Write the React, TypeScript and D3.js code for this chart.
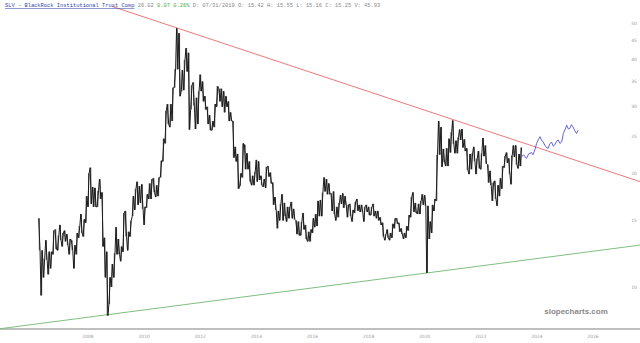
import React, { useRef, useEffect } from 'react';
import * as d3 from 'd3';

const W = 640;
const H = 343;

// monthly low / high of the daily bars, May 2006 .. Jul 2023
const firstMonth = new Date(2006, 4, 1);
const monthlyLows = [
  12.5, 9.5, 10.6, 11.8, 10.8, 11.2, 12.2, 12.6,
  12.5, 13.3, 12.8, 13.2, 12.9, 12.2, 12.5, 11.2, 12.2, 13.5, 13.9, 13.6,
  14.8, 16.3, 16.6, 16.3, 16.3, 16.3, 17.1, 12.8, 10.6, 8.4, 9.0, 10.0,
  10.6, 12.2, 12.2, 11.7, 12.4, 13.6, 12.5, 13.6, 15.4, 16.0, 16.5, 16.7,
  16.1, 14.6, 16.2, 17.1, 17.1, 17.8, 17.3, 17.4, 19.5, 21.5, 24.0, 27.0,
  26.5, 27.5, 33.7, 37.7, 32.0, 33.0, 33.2, 37.2, 26.1, 29.5, 30.2, 26.2,
  27.0, 33.0, 31.0, 29.5, 27.0, 26.0, 26.0, 26.5, 30.0, 31.0, 30.0, 29.0,
  30.0, 27.5, 27.5, 22.0, 21.5, 18.2, 18.5, 19.5, 20.5, 20.5, 19.0, 18.6,
  18.6, 19.0, 19.2, 18.6, 18.4, 18.3, 19.6, 18.8, 16.5, 16.0, 14.3, 15.0,
  15.0, 15.4, 14.9, 15.2, 15.2, 15.1, 13.8, 13.7, 13.7, 14.2, 13.4, 13.2,
  13.2, 13.9, 14.4, 14.5, 15.4, 15.4, 17.9, 17.6, 17.6, 15.9, 15.6, 15.0,
  15.3, 16.6, 16.2, 16.5, 15.3, 15.4, 14.9, 15.7, 15.9, 15.8, 15.8, 14.9,
  15.8, 15.5, 15.5, 15.4, 15.2, 15.0, 14.6, 13.6, 13.3, 13.5, 13.3, 13.5,
  14.3, 14.7, 14.0, 13.8, 13.4, 13.5, 14.1, 15.3, 15.8, 15.7, 15.6, 15.6,
  16.5, 16.4, 10.9, 13.4, 13.9, 15.9, 16.9, 22.4, 20.8, 21.4, 20.9, 20.9,
  22.7, 23.9, 22.6, 22.6, 24.5, 23.4, 22.9, 20.4, 19.9, 20.5, 21.5, 19.9,
  20.6, 20.5, 22.2, 21.2, 18.9, 18.6, 16.9, 17.1, 16.4, 17.4, 18.2, 20.7,
  21.3, 19.9, 18.7, 22.1, 21.1, 20.6, 20.9,
];
const monthlyHighs = [
  15.2, 12.5, 11.9, 13.3, 12.4, 12.4, 14.1, 14.2,
  13.7, 14.6, 13.9, 14.1, 13.8, 13.4, 13.3, 12.9, 13.9, 14.5, 15.6, 15.1,
  17.4, 20.0, 20.7, 18.4, 18.3, 18.0, 19.3, 17.8, 13.5, 12.4, 10.6, 11.5,
  12.3, 14.4, 13.4, 12.8, 15.7, 15.9, 14.0, 15.0, 17.4, 18.2, 19.0, 18.5,
  18.7, 16.3, 17.6, 18.8, 19.3, 19.4, 18.6, 19.5, 21.6, 24.7, 29.3, 30.5,
  30.5, 33.7, 37.8, 48.4, 47.0, 37.5, 39.9, 42.9, 41.7, 34.2, 34.8, 31.7,
  33.0, 36.5, 35.0, 32.0, 30.0, 28.5, 27.5, 30.5, 34.0, 33.5, 33.5, 33.0,
  32.0, 31.0, 29.0, 27.5, 23.5, 22.5, 20.0, 24.0, 23.8, 22.6, 21.5, 19.7,
  20.2, 21.7, 21.5, 19.7, 19.3, 20.8, 20.9, 20.1, 18.9, 17.3, 15.9, 16.6,
  17.6, 16.7, 16.3, 16.3, 16.8, 16.1, 15.0, 14.9, 14.9, 15.7, 14.6, 14.0,
  14.2, 15.2, 15.6, 16.9, 17.0, 17.8, 19.5, 19.3, 18.8, 17.7, 17.9, 16.3,
  16.7, 17.5, 17.7, 17.4, 16.5, 16.6, 16.0, 16.8, 17.1, 16.5, 16.5, 16.3,
  16.5, 16.3, 16.3, 16.6, 15.9, 15.9, 15.3, 14.8, 13.8, 14.2, 13.9, 14.7,
  15.2, 15.2, 14.8, 14.3, 13.9, 14.5, 15.5, 17.3, 17.8, 16.7, 16.6, 16.9,
  17.6, 17.5, 16.4, 14.9, 16.5, 17.1, 22.4, 27.5, 26.5, 23.2, 23.3, 24.7,
  25.7, 27.6, 24.4, 24.9, 26.1, 26.2, 24.6, 23.3, 22.5, 22.6, 23.5, 21.9,
  22.9, 22.6, 24.8, 23.7, 21.1, 20.3, 18.9, 19.1, 18.6, 19.4, 20.9, 22.2,
  22.7, 21.9, 22.3, 23.7, 23.7, 22.5, 23.4,
];

// blue continuation
const blueDates = [
  '2023-07-24', '2023-08-20', '2023-09-27', '2023-10-25', '2023-12-01', '2023-12-20',
  '2024-01-15', '2024-02-06', '2024-03-01', '2024-03-20', '2024-04-10', '2024-05-01',
  '2024-05-25', '2024-06-13', '2024-07-05', '2024-07-25', '2024-08-18', '2024-09-10',
  '2024-10-01', '2024-10-22', '2024-11-13', '2024-12-05', '2024-12-28', '2025-01-19',
  '2025-02-10', '2025-03-04', '2025-03-25', '2025-04-13', '2025-05-05', '2025-05-27',
  '2025-06-18', '2025-07-09', '2025-07-31',
];
const blueValues = [
  22.1, 22.4, 21.9, 22.5, 22.7, 22.4,
  23.1, 24.0, 24.6, 25.0, 24.5, 24.2,
  23.7, 23.4, 23.3, 23.9, 24.2, 23.6,
  23.8, 24.3, 24.5, 24.0, 24.2, 25.5,
  26.1, 26.8, 26.2, 26.3, 26.9, 26.5,
  25.9, 25.5, 26.0,
];

const resistance = [{ date: '2011-04-28', value: 48.4 }, { date: '2021-02-01', value: 27.8 }];
const support = [{ date: '2008-10-27', value: 8.45 }, { date: '2020-03-18', value: 10.9 }];

const priceTicks = [10, 15, 20, 25, 30, 35, 40, 45, 50];
const yearTicks = [2008, 2010, 2012, 2014, 2016, 2018, 2020, 2022, 2024, 2026];

const App = () => {
  const ref = useRef<SVGSVGElement>(null);

  useEffect(() => {
    const svg = d3.select(ref.current);
    svg.selectAll('*').remove();

    const x = d3.scaleTime()
      .domain([new Date(2008, 0, 1), new Date(2026, 0, 1)])
      .range([85, 590]);
    const y = d3.scaleLog()
      .domain([10, 50])
      .range([287, 23]);

    // trend lines are straight in pixel space, extended across the chart
    const extend = (pts, x0, x1) => {
      const ax = x(new Date(pts[0].date)), ay = y(pts[0].value);
      const bx = x(new Date(pts[1].date)), by = y(pts[1].value);
      const k = (by - ay) / (bx - ax);
      return [[x0, ay + (x0 - ax) * k], [x1, ay + (x1 - ax) * k]];
    };

    svg.append('line')
      .attr('x1', 0).attr('x2', W)
      .attr('y1', 329).attr('y2', 329)
      .attr('stroke', '#aaa')
      .attr('stroke-width', 1.5);

    const red = extend(resistance, 112, W);
    svg.append('path')
      .attr('d', d3.line()(red))
      .attr('stroke', '#ec7a7a')
      .attr('stroke-width', 1)
      .attr('fill', 'none');

    const green = extend(support, 0, W);
    svg.append('path')
      .attr('d', d3.line()(green))
      .attr('stroke', '#7fbf7f')
      .attr('stroke-width', 1)
      .attr('fill', 'none');

    // price: thin hi/lo ticks per month plus a zigzag through them
    const months = monthlyLows.map((_, i) => d3.timeMonth.offset(firstMonth, i));
    const slot = (d: Date) => x(d3.timeMonth.offset(d, 1)) - x(d);

    svg.append('g')
      .selectAll('line')
      .data(months)
      .join('line')
      .attr('x1', d => x(d) + slot(d) / 2)
      .attr('x2', d => x(d) + slot(d) / 2)
      .attr('y1', (d, i) => y(monthlyHighs[i]))
      .attr('y2', (d, i) => y(monthlyLows[i]))
      .attr('stroke', '#222')
      .attr('stroke-width', 0.8);

    const zig: [number, number][] = [];
    months.forEach((d, i) => {
      const s = slot(d);
      const up = i + 1 < months.length
        ? monthlyHighs[i + 1] + monthlyLows[i + 1] > monthlyHighs[i] + monthlyLows[i]
        : true;
      const a = up ? monthlyLows[i] : monthlyHighs[i];
      const b = up ? monthlyHighs[i] : monthlyLows[i];
      zig.push([x(d) + s * 0.2, y(a)]);
      zig.push([x(d) + s * 0.8, y(b)]);
    });
    svg.append('path')
      .attr('d', d3.line()(zig))
      .attr('stroke', '#1c1c1c')
      .attr('stroke-width', 1)
      .attr('stroke-linejoin', 'bevel')
      .attr('fill', 'none');

    const blue = d3.line<number>()
      .x((d, i) => x(new Date(blueDates[i])))
      .y(d => y(d));
    svg.append('path')
      .attr('d', blue(blueValues))
      .attr('stroke', '#5050dc')
      .attr('stroke-width', 0.9)
      .attr('fill', 'none');

    // axes labels
    svg.append('g')
      .selectAll('text')
      .data(priceTicks)
      .join('text')
      .attr('x', 634)
      .attr('y', d => y(d) + 1.6)
      .attr('text-anchor', 'middle')
      .attr('font-family', 'DejaVu Sans')
      .attr('font-size', 4.5)
      .attr('fill', '#999')
      .text(d => d);

    svg.append('g')
      .selectAll('text')
      .data(yearTicks)
      .join('text')
      .attr('x', d => x(new Date(d, 0, 1)) + 3)
      .attr('y', 337.5)
      .attr('text-anchor', 'middle')
      .attr('font-family', 'DejaVu Sans')
      .attr('font-size', 4.5)
      .attr('fill', '#999')
      .text(d => d);

    svg.append('text')
      .attr('x', 576)
      .attr('y', 313.5)
      .attr('text-anchor', 'middle')
      .attr('font-family', 'Liberation Sans')
      .attr('font-weight', 'bold')
      .attr('font-size', 8)
      .attr('fill', '#888')
      .text('slopecharts.com');

    const head = svg.append('text')
      .attr('x', 5)
      .attr('y', 7)
      .attr('font-family', 'Liberation Mono')
      .attr('font-size', 5.4)
      .attr('fill', '#888');
    head.append('tspan')
      .attr('fill', '#3344aa')
      .attr('text-decoration', 'underline')
      .text('SLV - BlackRock Institutional Trust Comp');
    head.append('tspan').text(' 26.02 ');
    head.append('tspan').attr('fill', '#44aa44').text('0.07 0.26%');
    head.append('tspan').text(' D: 07/31/2019 O: 15.42 H: 15.55 L: 15.16 C: 15.25 V: 45.93');
  }, []);

  return (
    <svg
      ref={ref}
      width={W}
      height={H}
      style={{ position: 'absolute', left: 0, top: 0, background: '#fff' }}
    />
  );
};

export default App;
